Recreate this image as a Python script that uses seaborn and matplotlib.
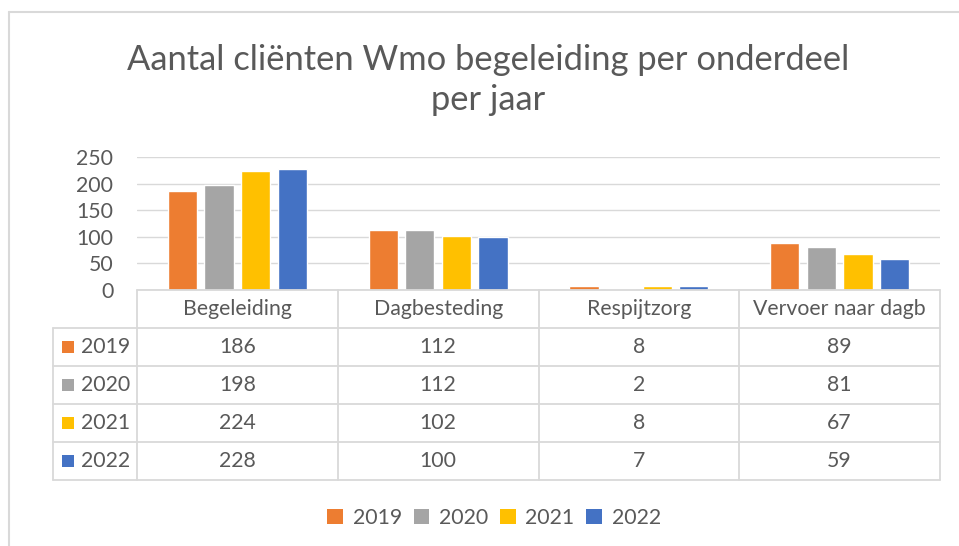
import matplotlib
matplotlib.use("Agg")
import matplotlib.pyplot as plt
import seaborn as sns
import pandas as pd
from matplotlib.patches import Patch, Rectangle
from matplotlib.lines import Line2D

categories = ["Begeleiding", "Dagbesteding", "Respijtzorg", "Vervoer naar dagb"]
years = ["2019", "2020", "2021", "2022"]
v2019 = [186, 112, 8, 89]
v2020 = [198, 112, 2, 81]
v2021 = [224, 102, 8, 67]
v2022 = [228, 100, 7, 59]
colors = ["#ED7D31", "#A5A5A5", "#FFC000", "#4472C4"]
yticks = [0, 50, 100, 150, 200, 250]
title = "Aantal cliënten Wmo begeleiding per onderdeel\nper jaar"

series = [v2019, v2020, v2021, v2022]
rows = []
for yr, vals in zip(years, series):
    for c, v in zip(categories, vals):
        rows.append({"categorie": c, "jaar": yr, "aantal": v})
df = pd.DataFrame(rows)

sns.set_style("white")
plt.rcParams["font.family"] = ["Lato", "DejaVu Sans"]
TXT = "#595959"
GRID = "#D9D9D9"
FS = 15.3

W, H = 959, 546
fig = plt.figure(figsize=(W / 100, H / 100), dpi=100)

# chart border
fig.add_artist(Line2D([8.5 / W, 8.5 / W], [0, 1 - 12 / H], color=GRID, lw=1.5))
fig.add_artist(Line2D([8.5 / W, 1], [1 - 12 / H, 1 - 12 / H], color=GRID, lw=1.5))

# title
fig.text(488 / W, 1 - 80 / H, title, ha="center", va="center", fontsize=24.8,
         color=TXT, linespacing=1.3)

# bar axes
L, R = 137, 940
ax = fig.add_axes([L / W, 1 - 290 / H, (R - L) / W, (290 - 157) / H])
sns.barplot(data=df, x="categorie", y="aantal", hue="jaar", palette=colors,
            width=0.73, gap=0.2, saturation=1, ax=ax, legend=False)
ax.set_xlim(-0.5, 3.5)
ax.set_ylim(0, 250)
ax.set_yticks(yticks)
ax.yaxis.grid(True, color=GRID, lw=1)
ax.set_axisbelow(True)
for s in ax.spines.values():
    s.set_visible(False)
ax.set_xticks([])
ax.set_xlabel("")
ax.set_ylabel("")
ax.tick_params(axis="y", length=0, labelsize=FS, labelcolor=TXT, pad=17)

# data table
tax = fig.add_axes([L / W, 1 - 480 / H, (R - L) / W, 190 / H])
tax.set_xlim(-0.5, 3.5)
tax.set_ylim(5, 0)
tax.axis("off")
upx = 4 / (R - L)
left = -0.5 - (L - 53) * upx
lk = dict(color=GRID, lw=1.3, clip_on=False)
tax.plot([-0.5, 3.5], [0, 0], **lk)
for r in range(1, 6):
    tax.plot([left, 3.5], [r, r], **lk)
for xv in [-0.5, 0.5, 1.5, 2.5, 3.5]:
    tax.plot([xv, xv], [0, 5], **lk)
tax.plot([left, left], [1, 5], **lk)
for i, c in enumerate(categories):
    tax.text(i, 0.5, c, ha="center", va="center", fontsize=FS, color=TXT)
for r, (yr, vals, col) in enumerate(zip(years, series, colors), start=1):
    tax.add_patch(Rectangle((-0.5 - (L - 62) * upx, r + 0.5 - 0.16), 12 * upx, 0.32,
                            facecolor=col, edgecolor="none", clip_on=False))
    tax.text(-0.5 - (L - 81) * upx, r + 0.5, yr, ha="left", va="center",
             fontsize=FS, color=TXT)
    for i, v in enumerate(vals):
        tax.text(i, r + 0.5, str(v), ha="center", va="center", fontsize=FS, color=TXT)

# legend
handles = [Patch(facecolor=c, edgecolor="none", label=y) for c, y in zip(colors, years)]
fig.legend(handles=handles, loc="center", bbox_to_anchor=(494 / W, 1 - 518 / H),
           ncol=4, frameon=False, fontsize=FS, labelcolor=TXT,
           handlelength=0.75, handleheight=0.75, handletextpad=0.45,
           columnspacing=0.55)

fig.savefig("out.png", dpi=100, facecolor="white")
